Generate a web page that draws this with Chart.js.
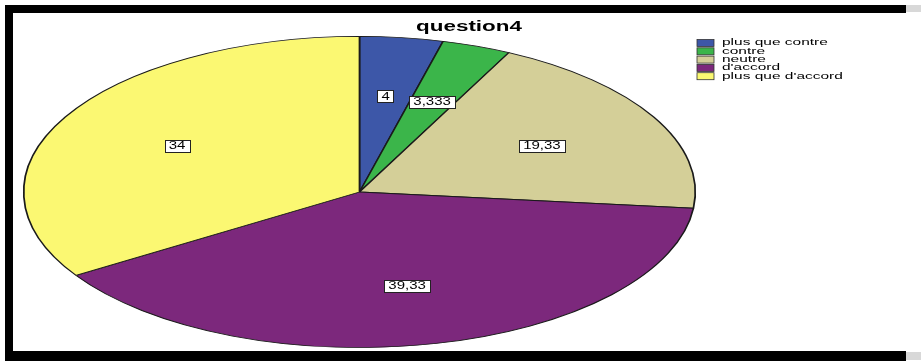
<!DOCTYPE html>
<html>
<head>
<meta charset="utf-8">
<script src="https://cdn.jsdelivr.net/npm/chart.js@4/dist/chart.umd.min.js"></script>
<style>
  html, body { margin: 0; padding: 0; background: #fff; }
  #wrap { width: 921px; height: 361px; position: relative; }
</style>
</head>
<body>
<div id="wrap"><canvas id="pie" width="921" height="361"></canvas></div>
<script>
// data
const chartTitle = "question4";
const categories = ["plus que contre", "contre", "neutre", "d'accord", "plus que d'accord"];
const percents = [4, 3.333, 19.33, 39.33, 34];
const sliceColors = ["#3d57a8", "#3bb54a", "#d4cf98", "#7c287c", "#fbf872"];

// the picture is squashed: pie is an ellipse, text is wide
const stretchX = 2.158;
const textStretch = 1.5;

const fmt = v => v.toString().replace(".", ",");

const wideText = (ctx, str, x, y, sx, align) => {
    ctx.save();
    ctx.translate(x, y);
    ctx.scale(sx, 1);
    ctx.textAlign = align || "center";
    ctx.textBaseline = "middle";
    ctx.fillText(str, 0, 0);
    ctx.restore();
}

// frame round the picture
const framePlugin = {
    id: "frame",
    beforeDraw(chart) {
        const ctx = chart.ctx;
        ctx.save();
        ctx.fillStyle = "#fff";
        ctx.fillRect(0, 0, chart.width, chart.height);
        ctx.fillStyle = "#000";
        ctx.fillRect(5, 5, 901, 8);
        ctx.fillRect(5, 5, 8, 356);
        ctx.fillRect(5, 351, 901, 10);
        ctx.fillStyle = "#d8d8d8";
        ctx.fillRect(906, 5, 15, 7);
        ctx.fillRect(906, 352, 15, 8);
        ctx.restore();
    }
};

// stretch the round pie into an ellipse
const ellipsePlugin = {
    id: "ellipse",
    beforeDatasetsDraw(chart) {
        const arc = chart.getDatasetMeta(0).data[0];
        const ctx = chart.ctx;
        ctx.save();
        ctx.translate(arc.x, arc.y);
        ctx.scale(stretchX, 1);
        ctx.translate(-arc.x, -arc.y);
    },
    afterDatasetsDraw(chart) {
        chart.ctx.restore();
    }
};

// value boxes, title and legend
const textPlugin = {
    id: "texts",
    afterDraw(chart) {
        const ctx = chart.ctx;
        const arcs = chart.getDatasetMeta(0).data;
        ctx.save();
        ctx.font = "10px 'Liberation Sans', Arial, sans-serif";
        arcs.forEach((arc, i) => {
            const mid = (arc.startAngle + arc.endAngle) / 2;
            const r = arc.outerRadius * 0.62;
            const px = arc.x + Math.cos(mid) * r * stretchX;
            const py = arc.y + Math.sin(mid) * r;
            const label = fmt(percents[i]);
            const w = ctx.measureText(label).width * textStretch + 8;
            ctx.fillStyle = "#fff";
            ctx.fillRect(Math.round(px - w / 2), Math.round(py - 6), Math.round(w), 12);
            ctx.strokeStyle = "#222";
            ctx.lineWidth = 1;
            ctx.strokeRect(Math.round(px - w / 2) + 0.5, Math.round(py - 6) + 0.5, Math.round(w), 12);
            ctx.fillStyle = "#000";
            wideText(ctx, label, px, py + 0.5, textStretch);
        });

        ctx.font = "bold 14px 'Liberation Sans', Arial, sans-serif";
        ctx.fillStyle = "#000";
        wideText(ctx, chartTitle, 469, 27, 1.6);

        ctx.font = "9px 'Liberation Sans', Arial, sans-serif";
        categories.forEach((name, i) => {
            const y = 43 + i * 8.3;
            ctx.fillStyle = sliceColors[i];
            ctx.fillRect(697, y - 3.5, 17, 7);
            ctx.strokeStyle = "#333";
            ctx.lineWidth = 0.8;
            ctx.strokeRect(697, y - 3.5, 17, 7);
            ctx.fillStyle = "#000";
            wideText(ctx, name, 722, y, 1.72, "left");
        });
        ctx.restore();
    }
};

new Chart(document.getElementById("pie"), {
    type: "pie",
    data: {
        labels: categories,
        datasets: [{
            data: percents,
            backgroundColor: sliceColors,
            borderColor: "#1a1a1a",
            borderWidth: 0.8
        }]
    },
    options: {
        responsive: false,
        animation: false,
        events: [],
        layout: {
            padding: { left: 200, right: 402, top: 36, bottom: 13 }
        },
        plugins: {
            legend: { display: false },
            title: { display: false },
            tooltip: { enabled: false }
        }
    },
    plugins: [framePlugin, ellipsePlugin, textPlugin]
});
</script>
</body>
</html>
